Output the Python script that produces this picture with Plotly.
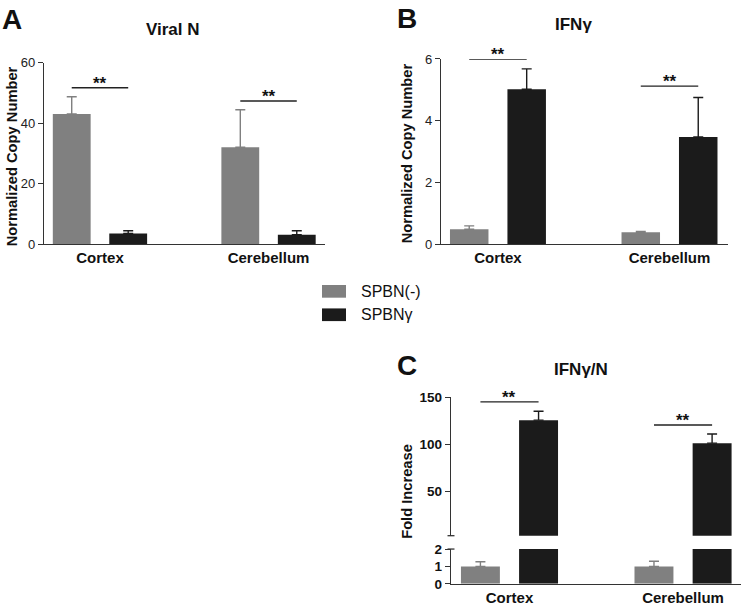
import plotly.graph_objects as go

# ---------------- data ----------------
categories = ["Cortex", "Cerebellum"]
series_names = ["SPBN(-)", "SPBNγ"]

# Panel A: Viral N
a_neg = [43.0, 32.0]
a_neg_err = [5.7, 12.4]
a_gam = [3.5, 3.1]
a_gam_err = [0.9, 1.3]
a_sig = [51.7, 47.3]

# Panel B: IFNγ
b_neg = [0.48, 0.38]
b_neg_err = [0.11, 0.03]
b_gam = [5.02, 3.47]
b_gam_err = [0.66, 1.28]
b_sig = [6.0, 5.12]

# Panel C: IFNγ/N
c_neg = [1.0, 1.0]
c_neg_err = [0.27, 0.30]
c_gam = [125.6, 101.2]
c_gam_err = [9.5, 9.8]
c_sig = [145.0, 120.5]

a_ticks = [0, 20, 40, 60]
b_ticks = [0, 2, 4, 6]
c_ticks_upper = [50, 100, 150]
c_ticks_lower = [0, 1, 2]

# ---------------- style ----------------
W, H = 742, 611
FONT = "Liberation Sans, Arial, Helvetica, sans-serif"
GRAY = "#808080"
BLACK = "#1b1b1b"
AXC = "#333333"
BARGAP = 0.33
GROUPGAP = 0.33


def px(x):
    return x / W


def py(y):
    return 1 - y / H


fig = go.Figure()


def add_pair(neg, neg_err, gam, gam_err, xa, ya):
    for vals, errs, color, name in [(neg, neg_err, GRAY, series_names[0]),
                                    (gam, gam_err, BLACK, series_names[1])]:
        fig.add_trace(go.Bar(
            x=categories, y=vals, name=name, marker=dict(color=color, line=dict(width=0)),
            error_y=dict(type="data", array=errs, arrayminus=[0] * len(errs), symmetric=False,
                         color=color, thickness=1.4, width=5),
            xaxis=xa, yaxis=ya, showlegend=False))


add_pair(a_neg, a_neg_err, a_gam, a_gam_err, "x", "y")
add_pair(b_neg, b_neg_err, b_gam, b_gam_err, "x2", "y2")
add_pair(c_neg, c_neg_err, c_gam, c_gam_err, "x3", "y3")   # lower broken segment
add_pair(c_neg, c_neg_err, c_gam, c_gam_err, "x3", "y4")   # upper broken segment

xcommon = dict(type="category", showline=True, linecolor=AXC, linewidth=1.4,
               ticks="", showgrid=False, zeroline=False,
               tickfont=dict(family=FONT, size=15, color="#111", weight="bold"))
ycommon = dict(showline=True, linecolor=AXC, linewidth=1.4, ticks="outside", ticklen=5,
               tickwidth=1.2, tickcolor=AXC, showgrid=False, zeroline=False,
               tickfont=dict(family=FONT, size=13, color="#222"))

fig.update_layout(
    width=W, height=H, margin=dict(l=0, r=0, t=0, b=0),
    paper_bgcolor="white", plot_bgcolor="white",
    barmode="group", bargap=BARGAP, bargroupgap=GROUPGAP,
    showlegend=False,
    xaxis=dict(xcommon, domain=[px(44), px(325)], range=[-0.332, 1.335], anchor="y"),
    yaxis=dict(ycommon, domain=[py(243), py(57)], range=[0, 60], tickvals=a_ticks, anchor="x"),
    xaxis2=dict(xcommon, domain=[px(441), px(728)], range=[-0.332, 1.341], anchor="y2"),
    yaxis2=dict(ycommon, domain=[py(243), py(53.3)], range=[0, 6], tickvals=b_ticks, anchor="x2"),
    xaxis3=dict(xcommon, domain=[px(451), px(741)], range=[-0.337, 1.334], anchor="y3"),
    yaxis3=dict(ycommon, domain=[py(591.3), py(555.7)], range=[0, 2], tickvals=c_ticks_lower,
                anchor="x3", tickfont=dict(family=FONT, size=13.5, color="#111", weight="bold")),
    yaxis4=dict(ycommon, domain=[py(542), py(400)], range=[3, 150], tickvals=c_ticks_upper,
                anchor="x3", tickfont=dict(family=FONT, size=13.5, color="#111", weight="bold")),
)

shapes = []
annotations = []

# significance brackets
half = (1 - BARGAP) / 4
for xa, ya, sig in [("x", "y", a_sig), ("x2", "y2", b_sig), ("x3", "y4", c_sig)]:
    for i, h in enumerate(sig):
        shapes.append(dict(type="line", xref=xa, yref=ya, x0=i - half, x1=i + half, y0=h, y1=h,
                           line=dict(color="#222", width=1.4)))
        annotations.append(dict(x=i, y=h, xref=xa, yref=ya, text="**", showarrow=False,
                                yanchor="bottom", yshift=-7,
                                font=dict(family=FONT, size=17, color="#111", weight="bold")))

# axis-break markers on panel C
shapes.append(dict(type="line", xref="x3 domain", yref="y4 domain", x0=-0.012, x1=0.012, y0=0, y1=0,
                   line=dict(color=AXC, width=1.3)))
shapes.append(dict(type="line", xref="x3 domain", yref="y3 domain", x0=-0.012, x1=0.012, y0=1, y1=1,
                   line=dict(color=AXC, width=1.3)))

# panel titles
for text, x, y in [("Viral N", 173, 23), ("IFNγ", 573, 18), ("IFNγ/N", 581, 372)]:
    annotations.append(dict(x=px(x), y=py(y), xref="paper", yref="paper", text=text, showarrow=False,
                            xanchor="center", yanchor="middle",
                            font=dict(family=FONT, size=17, color="#111", weight="bold")))

# panel letters
for text, x, y in [("A", 12, 13), ("B", 407, 12), ("C", 407, 368)]:
    annotations.append(dict(x=px(x), y=py(y), xref="paper", yref="paper", text=text, showarrow=False,
                            xanchor="center", yanchor="middle",
                            font=dict(family=FONT, size=28, color="#111", weight="bold")))

# y-axis titles
for text, x, y in [("Normalized Copy Number", 12, 153), ("Normalized Copy Number", 407, 150),
                   ("Fold Increase", 407, 496)]:
    annotations.append(dict(x=px(x), y=py(y), xref="paper", yref="paper", text=text, showarrow=False,
                            textangle=-90, xanchor="center", yanchor="middle",
                            font=dict(family=FONT, size=14.7, color="#111", weight="bold")))

# legend
for (name, color), ytop in zip(zip(series_names, [GRAY, BLACK]), [285, 309]):
    shapes.append(dict(type="rect", xref="paper", yref="paper", x0=px(322), x1=px(346),
                       y0=py(ytop + 13), y1=py(ytop), fillcolor=color, line=dict(width=0)))
    annotations.append(dict(x=px(359), y=py(ytop + 6.5), xref="paper", yref="paper", text=name,
                            showarrow=False, xanchor="left", yanchor="middle",
                            font=dict(family=FONT, size=16, color="#111")))

fig.update_layout(shapes=shapes, annotations=annotations)

fig.write_html("out.html", config={"displayModeBar": False},
               post_script="document.body.style.margin='0px';")
